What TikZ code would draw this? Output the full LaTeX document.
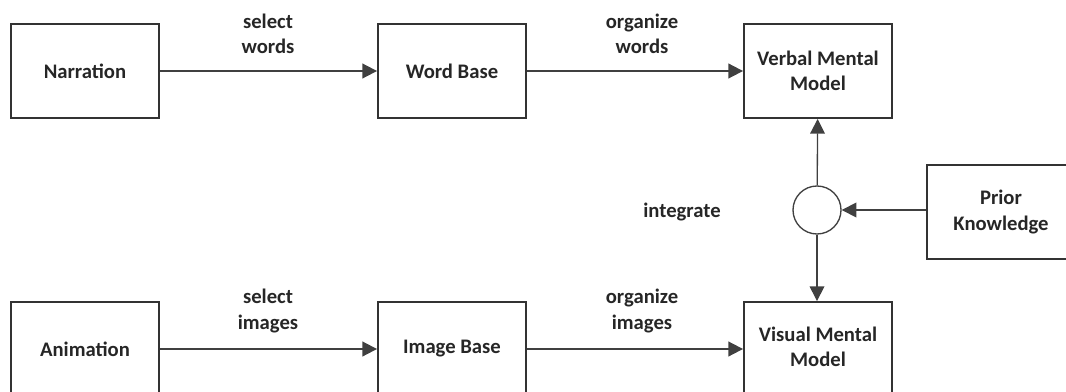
\documentclass[tikz,border=0pt]{standalone}
\usepackage{fontspec}
\setmainfont{Carlito}
\usetikzlibrary{arrows.meta}
\begin{document}
\begin{tikzpicture}[x=0.75pt,y=-0.75pt,
  box/.style={draw=black!80,line width=1.4pt,minimum width=148*0.75pt,minimum height=94*0.75pt,inner sep=0pt,font=\bfseries\fontsize{15.5}{19}\selectfont,align=center,text=black!85},
  lbl/.style={font=\bfseries\fontsize{15.5}{19}\selectfont,align=center,text=black!85},
  conn/.style={draw=black!75,line width=1.4pt,-{Triangle[length=11pt,width=11pt]}},
  thin/.style={draw=black!75,line width=1pt,-{Triangle[length=11pt,width=11pt]}}]
\useasboundingbox (0,0) rectangle (1066,392);
\begin{scope}
\clip (0,0) rectangle (1066,392);
\node[box] (narr) at (85,71) {Narration};
\node[box] (word) at (452,71) {Word Base};
\node[box] (verbal) at (818,71) {Verbal Mental\\Model};
\node[box] (anim) at (85,349) {};
\node[box] (image) at (452,349) {};
\node[box] (visual) at (818,349) {};
\node[box] (prior) at (1001,212) {Prior\\Knowledge};
\end{scope}
\node[lbl] at (85,349) {Animation};
\node[lbl] at (452,349) {Image Base};
\node[lbl] at (818,347) {Visual Mental\\Model};
\node[draw=black!75,line width=1pt,circle,minimum size=48*0.75pt,inner sep=0pt] (integ) at (817,210) {};
\draw[conn] (narr) -- (word);
\draw[conn] (word) -- (verbal);
\draw[conn] (anim.east |- 0,349) -- (image.west |- 0,349);
\draw[conn] (image.east |- 0,349) -- (visual.west |- 0,349);
\draw[thin] (integ) -- (verbal);
\draw[thin] (integ) -- (visual.north -| integ);
\draw[thin] (prior.west |- integ) -- (integ);
\node[lbl] at (268,34) {select\\words};
\node[lbl] at (642,34) {organize\\words};
\node[lbl] at (268,311) {select\\images};
\node[lbl] at (642,311) {organize\\images};
\node[lbl] at (682,212) {integrate};
\end{tikzpicture}
\end{document}
